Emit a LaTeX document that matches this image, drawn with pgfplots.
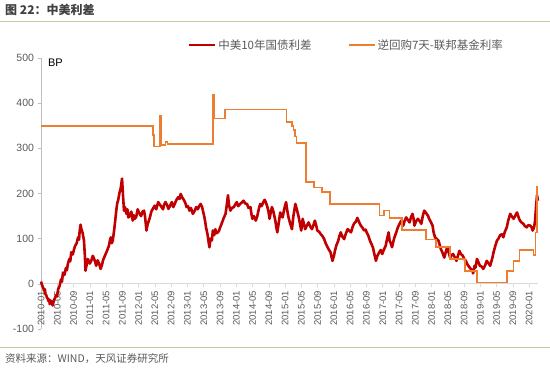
\documentclass[border=0pt]{standalone}
\usepackage{fontspec}
\setmainfont{Liberation Sans}
\newfontfamily\cjk{Noto Sans CJK SC}
\usepackage{pgfplots}
\pgfplotsset{compat=1.18}
\definecolor{cnred}{RGB}{192,0,0}
\definecolor{cnorange}{RGB}{237,125,49}
\definecolor{tickgray}{RGB}{89,89,89}
\definecolor{axgray}{RGB}{191,191,191}
\definecolor{zerogray}{RGB}{217,217,217}
\definecolor{rulecol}{RGB}{205,195,165}
\begin{document}
\begin{tikzpicture}
\path[use as bounding box] (0pt,0pt) rectangle (550pt,368pt);
\node[anchor=west, font=\cjk\bfseries\fontsize{12}{14}\selectfont, text=black!75, inner sep=0pt] at (5pt,358pt) {图 22：中美利差};
\draw[rulecol, line width=1pt] (0pt,347pt) -- (550pt,347pt);
\draw[rulecol, line width=1pt] (0pt,21pt) -- (550pt,21pt);
\node[anchor=west, font=\cjk\fontsize{10.5}{12}\selectfont, text=tickgray, inner sep=0pt] at (5pt,9pt) {资料来源：WIND，天风证券研究所};
\begin{axis}[at={(41pt,39pt)}, anchor=south west, scale only axis, width=497pt, height=271pt,
 xmin=2010, xmax=2020.18, ymin=-100, ymax=500,
 axis x line=middle, axis y line=left, axis line style={-},
 x axis line style={zerogray, line width=0.8pt},
 y axis line style={axgray, line width=0.8pt},
 hide obscured x ticks=false, hide obscured y ticks=false,
 tick align=outside, major tick length=3.5pt,
 xtick style={zerogray, line width=0.6pt}, ytick style={axgray, line width=0.6pt},
 ytick={-100,0,100,200,300,400,500},
 xtick={2010,2010.3333,2010.6667,2011,2011.3333,2011.6667,2012,2012.3333,2012.6667,2013,2013.3333,2013.6667,2014,2014.3333,2014.6667,2015,2015.3333,2015.6667,2016,2016.3333,2016.6667,2017,2017.3333,2017.6667,2018,2018.3333,2018.6667,2019,2019.3333,2019.6667,2020},
 xticklabels={2010-01,2010-05,2010-09,2011-01,2011-05,2011-09,2012-01,2012-05,2012-09,2013-01,2013-05,2013-09,2014-01,2014-05,2014-09,2015-01,2015-05,2015-09,2016-01,2016-05,2016-09,2017-01,2017-05,2017-09,2018-01,2018-05,2018-09,2019-01,2019-05,2019-09,2020-01},
 xticklabel style={rotate=90, anchor=east, font=\fontsize{9.5}{10}\selectfont, text=tickgray},
 yticklabel style={font=\fontsize{10.5}{12}\selectfont, text=tickgray},
 /pgf/number format/assume math mode=true,
 scaled ticks=false,
 clip=false,
 legend style={at={(0.29,1.048)}, anchor=west, draw=none, fill=none, font=\cjk\fontsize{11.5}{13}\selectfont, text=tickgray, legend columns=2, /tikz/every even column/.append style={column sep=34pt}},
 legend cell align=left,
 legend image code/.code={\draw[#1, line width=2pt] (0pt,0pt) -- (26pt,0pt);},
]
\addplot[cnred, line width=2.6pt, line join=round] coordinates {
(2010.00,5)(2010.02,-2)(2010.03,-5)(2010.05,-10)(2010.06,-15)(2010.08,-12)(2010.09,-22)(2010.11,-26)(2010.12,-30)(2010.14,-33)(2010.15,-38)(2010.17,-35)(2010.18,-45)(2010.20,-37)(2010.21,-40)(2010.23,-44)(2010.24,-48)(2010.26,-38)(2010.28,-33)(2010.31,-25)(2010.33,-28)(2010.35,-12)(2010.38,-5)(2010.41,10)(2010.43,5)(2010.45,25)(2010.48,20)(2010.51,35)(2010.53,30)(2010.55,44)(2010.58,55)(2010.60,50)(2010.62,70)(2010.65,65)(2010.68,78)(2010.70,84)(2010.73,90)(2010.76,103)(2010.78,98)(2010.79,115)(2010.81,131)(2010.83,120)(2010.85,114)(2010.88,96)(2010.90,60)(2010.91,29)(2010.94,45)(2010.96,55)(2011.00,45)(2011.03,51)(2011.06,62)(2011.08,58)(2011.11,48)(2011.13,40)(2011.16,52)(2011.19,45)(2011.22,33)(2011.25,42)(2011.27,52)(2011.30,60)(2011.34,70)(2011.37,78)(2011.39,84)(2011.41,95)(2011.43,103)(2011.45,90)(2011.47,96)(2011.50,120)(2011.52,140)(2011.54,160)(2011.56,178)(2011.58,185)(2011.61,203)(2011.63,210)(2011.66,233)(2011.68,195)(2011.70,162)(2011.72,170)(2011.75,155)(2011.77,165)(2011.79,147)(2011.82,150)(2011.85,160)(2011.88,140)(2011.90,152)(2011.92,144)(2011.95,148)(2011.98,165)
(2012.02,155)(2012.05,150)(2012.08,160)(2012.11,162)(2012.13,150)(2012.16,118)(2012.18,130)(2012.21,140)(2012.23,147)(2012.26,160)(2012.30,168)(2012.33,173)(2012.36,165)(2012.40,181)(2012.43,176)(2012.47,170)(2012.50,165)(2012.52,175)(2012.55,181)(2012.58,175)(2012.61,166)(2012.64,172)(2012.68,181)(2012.71,170)(2012.74,177)(2012.77,185)(2012.81,192)(2012.84,188)(2012.86,199)(2012.89,192)(2012.93,185)(2012.96,178)(2012.98,170)
(2013.01,172)(2013.04,162)(2013.07,168)(2013.11,155)(2013.14,160)(2013.18,170)(2013.21,165)(2013.24,172)(2013.27,177)(2013.30,170)(2013.34,151)(2013.36,140)(2013.38,125)(2013.41,110)(2013.43,95)(2013.45,81)(2013.47,100)(2013.50,96)(2013.52,118)(2013.55,108)(2013.57,121)(2013.60,112)(2013.64,116)(2013.67,125)(2013.71,136)(2013.74,145)(2013.78,155)(2013.80,170)(2013.83,196)(2013.85,175)(2013.88,162)(2013.91,168)(2013.95,170)(2013.98,176)
(2014.01,181)(2014.04,172)(2014.08,177)(2014.11,180)(2014.15,184)(2014.18,178)(2014.22,177)(2014.25,168)(2014.29,170)(2014.31,155)(2014.33,144)(2014.36,150)(2014.40,140)(2014.43,150)(2014.46,165)(2014.49,177)(2014.52,172)(2014.55,180)(2014.58,186)(2014.60,182)(2014.63,173)(2014.66,160)(2014.68,144)(2014.70,155)(2014.73,170)(2014.76,160)(2014.80,140)(2014.82,125)(2014.84,114)(2014.87,135)(2014.90,158)(2014.92,152)(2014.95,147)(2014.98,165)
(2015.02,181)(2015.04,165)(2015.07,147)(2015.10,135)(2015.14,121)(2015.17,150)(2015.21,177)(2015.24,165)(2015.28,147)(2015.31,130)(2015.33,118)(2015.36,144)(2015.38,135)(2015.41,121)(2015.45,130)(2015.48,136)(2015.51,128)(2015.55,121)(2015.58,130)(2015.61,140)(2015.64,128)(2015.66,118)(2015.70,115)(2015.73,110)(2015.77,105)(2015.80,99)(2015.83,90)(2015.87,81)(2015.90,75)(2015.93,70)(2015.95,60)(2015.97,51)
(2016.00,62)(2016.02,73)(2016.05,85)(2016.09,96)(2016.11,105)(2016.14,114)(2016.17,105)(2016.21,99)(2016.24,110)(2016.28,121)(2016.31,118)(2016.35,114)(2016.38,125)(2016.41,133)(2016.45,138)(2016.48,146)(2016.51,138)(2016.55,129)(2016.58,125)(2016.62,118)(2016.65,120)(2016.67,114)(2016.70,108)(2016.74,95)(2016.77,88)(2016.80,80)(2016.82,70)(2016.84,60)(2016.86,51)(2016.89,62)(2016.93,70)(2016.96,75)(2016.99,66)
(2017.02,75)(2017.06,84)(2017.09,100)(2017.12,114)(2017.14,96)(2017.17,88)(2017.19,81)(2017.22,95)(2017.24,103)(2017.28,115)(2017.31,125)(2017.34,132)(2017.38,140)(2017.40,135)(2017.42,129)(2017.45,140)(2017.48,147)(2017.51,142)(2017.55,136)(2017.58,148)(2017.61,155)(2017.63,145)(2017.65,129)(2017.68,138)(2017.72,144)(2017.75,140)(2017.79,133)(2017.82,150)(2017.85,162)(2017.88,158)(2017.90,155)(2017.93,150)(2017.95,144)(2017.98,138)
(2018.02,129)(2018.04,115)(2018.07,103)(2018.10,100)(2018.14,96)(2018.17,85)(2018.19,77)(2018.22,70)(2018.26,58)(2018.29,70)(2018.32,81)(2018.35,70)(2018.38,58)(2018.41,63)(2018.44,66)(2018.48,58)(2018.51,51)(2018.54,62)(2018.57,73)(2018.60,66)(2018.64,62)(2018.67,55)(2018.70,51)(2018.74,42)(2018.78,36)(2018.81,32)(2018.84,29)(2018.85,23)(2018.88,40)(2018.90,36)(2018.93,55)(2018.96,48)(2018.99,40)
(2019.03,38)(2019.06,33)(2019.10,42)(2019.13,51)(2019.17,45)(2019.20,40)(2019.24,55)(2019.27,70)(2019.30,82)(2019.34,96)(2019.37,100)(2019.40,107)(2019.44,110)(2019.47,103)(2019.50,115)(2019.54,125)(2019.57,140)(2019.61,155)(2019.64,150)(2019.68,144)(2019.71,150)(2019.75,158)(2019.78,148)(2019.81,140)(2019.85,135)(2019.88,133)(2019.91,128)(2019.95,125)(2019.98,130)
(2020.02,129)(2020.05,125)(2020.07,118)(2020.10,125)(2020.12,140)(2020.14,170)(2020.16,196)(2020.18,184)
};
\addlegendentry{中美10年国债利差}
\addplot[cnorange, line width=1.6pt, const plot mark left] coordinates {
(2010.00,350)(2012.29,329)(2012.31,304)(2012.44,371)(2012.47,307)(2012.55,314)(2012.59,310)(2013.52,418)(2013.54,366)(2013.77,386)(2015.03,358)(2015.14,350)(2015.17,340)(2015.20,326)(2015.23,312)(2015.43,225)(2015.59,213)(2015.76,203)(2015.92,177)(2016.93,151)(2017.03,162)(2017.14,146)(2017.40,119)(2017.89,98)(2018.09,81)(2018.38,55)(2018.69,29)(2018.93,3)(2019.54,29)(2019.68,51)(2019.80,75)(2020.09,64)(2020.13,114)(2020.16,214)(2020.18,214)
};
\addlegendentry{逆回购7天-联邦基金利率}
\node[anchor=west, font=\fontsize{11}{12}\selectfont, inner sep=0pt] at (axis cs:2010.14,489) {BP};
\end{axis}
\end{tikzpicture}
\end{document}
